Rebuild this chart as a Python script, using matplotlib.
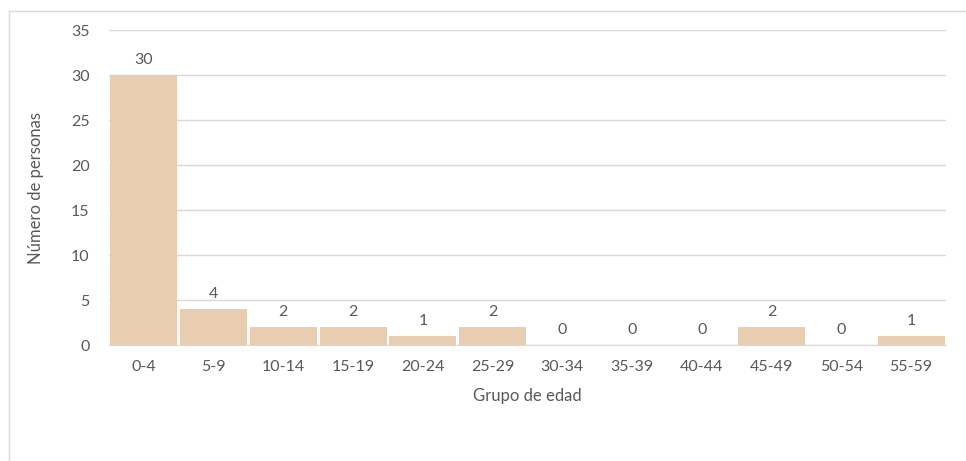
import matplotlib.pyplot as plt
from matplotlib.lines import Line2D

groups = ['0-4', '5-9', '10-14', '15-19', '20-24', '25-29', '30-34',
          '35-39', '40-44', '45-49', '50-54', '55-59']
personas = [30, 4, 2, 2, 1, 2, 0, 0, 0, 2, 0, 1]

BAR_COLOR = '#E9CDB0'
TEXT_COLOR = '#595959'
GRID_COLOR = '#D9D9D9'

plt.rcParams['font.family'] = ['Lato', 'DejaVu Sans']

fig = plt.figure(figsize=(9.66, 4.61), dpi=100)
ax = fig.add_axes([109 / 966, 1 - 345 / 461, (946 - 109) / 966, (345 - 30) / 461])

x = range(len(groups))
bars = ax.bar(x, personas, width=0.96, color=BAR_COLOR, zorder=3)
for b, v in zip(bars, personas):
    ax.text(b.get_x() + b.get_width() / 2, v + 0.9, str(v), ha='center', va='bottom',
            fontsize=11.5, color=TEXT_COLOR)

ax.set_xlim(-0.5, len(groups) - 0.5)
ax.set_ylim(0, 35)
ax.set_yticks(range(0, 36, 5))
ax.set_xticks(list(x))
ax.set_xticklabels(groups)
ax.tick_params(axis='both', length=0, labelsize=11.5, labelcolor=TEXT_COLOR)
ax.tick_params(axis='x', pad=11)
ax.tick_params(axis='y', pad=14)
ax.yaxis.grid(True, color=GRID_COLOR, linewidth=1, zorder=0)
for s in ['top', 'right', 'left']:
    ax.spines[s].set_visible(False)
ax.spines['bottom'].set_color(GRID_COLOR)
ax.spines['bottom'].set_zorder(4)

ax.set_xlabel('Grupo de edad', fontsize=12, color=TEXT_COLOR, labelpad=10)
ax.set_ylabel('Número de personas', fontsize=12, color=TEXT_COLOR, labelpad=19)

# outer frame (left and top edges visible)
fx = 8.5 / 966
fy = 1 - 11.5 / 461
fig.add_artist(Line2D([fx, fx], [0, fy], color='#D9D9D9', linewidth=1, transform=fig.transFigure))
fig.add_artist(Line2D([fx, 1], [fy, fy], color='#D9D9D9', linewidth=1, transform=fig.transFigure))

fig.savefig('out.png', dpi=100)
